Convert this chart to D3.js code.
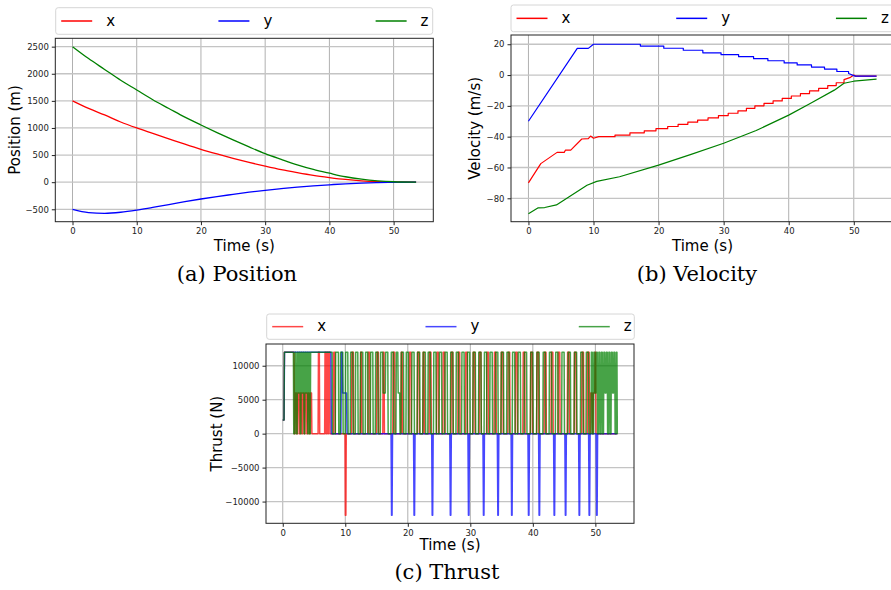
<!DOCTYPE html>
<html>
<head>
<meta charset="utf-8">
<script src="https://cdn.jsdelivr.net/npm/d3@7"></script>
<style>
  body { margin: 0; background: #fff; }
  text { font-family: "DejaVu Sans", sans-serif; }
</style>
</head>
<body>
<div id="fig"></div>
<script>
/*******************************/
/*            Data             */
/*******************************/

// (a) position, sampled every 2.5 s
var timePos = [0, 2.5, 5, 7.5, 10, 12.5, 15, 17.5, 20, 22.5, 25, 27.5, 30, 32.5, 35, 37.5, 40, 42.5, 45, 47.5, 50, 53.5];
var posX = [1500, 1360, 1240, 1110, 1000, 900, 800, 700, 605, 520, 440, 365, 295, 230, 175, 125, 85, 50, 25, 10, 3, 0];
var posY = [-500, -560, -575, -555, -515, -465, -415, -360, -310, -265, -225, -185, -150, -120, -92, -68, -48, -30, -17, -8, -3, 0];
var posZ = [2500, 2280, 2080, 1880, 1700, 1520, 1360, 1200, 1055, 915, 780, 650, 525, 420, 320, 235, 165, 100, 55, 25, 8, 0];

// (b) velocity, [time, value] break points
var velX = [[0, -70], [1.9, -57.5], [4.4, -50.2], [5.5, -50.2], [5.7, -48.7], [6.5, -48.7], [8.2, -41.5], [9.2, -41.3],
  [9.55, -39.6], [10.0, -41.0], [10.8, -40.0], [13.3, -40.0], [13.3, -39.0], [15.6, -39.0], [15.6, -37.5], [17.8, -37.5],
  [17.8, -36.2], [19.6, -36.2], [19.6, -34.8], [21.4, -34.8], [21.4, -33.4], [23.0, -33.4], [23.0, -32.0], [24.5, -32.0],
  [24.5, -30.6], [26.0, -30.6], [26.0, -29.2], [27.6, -29.2], [27.6, -27.8], [29.2, -27.8], [29.2, -26.3], [30.7, -26.3],
  [30.7, -24.8], [32.2, -24.8], [32.2, -23.2], [33.5, -23.2], [33.5, -21.6], [34.8, -21.6], [34.8, -20.0], [36.2, -20.0],
  [36.2, -18.4], [37.6, -18.4], [37.6, -16.8], [39.0, -16.8], [39.0, -15.2], [40.4, -15.2], [40.4, -13.6], [41.8, -13.6],
  [41.8, -12.0], [43.2, -12.0], [43.2, -10.3], [44.6, -10.3], [44.6, -8.6], [46.0, -8.6], [46.0, -6.8], [47.3, -6.8],
  [47.3, -5.0], [48.5, -5.0], [48.5, -3.0], [49.5, -1.5], [50.0, 0], [50.3, -0.7], [53.5, -0.7]];
var velY = [[0, -30], [7.5, 17.3], [9.2, 17.3], [10.0, 20], [17.2, 20], [17.2, 18.8], [20.8, 18.8], [20.8, 17.4],
  [23.8, 17.4], [23.8, 16.1], [26.8, 16.1], [26.8, 14.4], [29.6, 14.4], [29.6, 13.2], [32.3, 13.2], [32.3, 11.9],
  [34.6, 11.9], [34.6, 10.6], [36.8, 10.6], [36.8, 9.3], [39.3, 9.3], [39.3, 7.9], [41.3, 7.9], [41.3, 6.6],
  [43.5, 6.6], [43.5, 5.2], [45.5, 5.2], [45.5, 3.9], [47.4, 3.9], [47.4, 2.3], [49.2, 2.3], [49.2, 1.0],
  [50.2, -0.7], [53.5, -0.7]];
var velZ = [[0, -90], [1.5, -86.2], [2.5, -86.0], [4.3, -84.3], [9.0, -71.5], [10.5, -69.0], [14.0, -66.0],
  [20.0, -58.5], [25.0, -51.5], [30.0, -44.3], [35.0, -36.0], [40.0, -26.0], [43.3, -18.5], [47.0, -9.8],
  [48.5, -5.3], [50.0, -4.0], [53.5, -2.7]];

// (c) thrust, [time, new level] switching points
var thrustEnd = 53.5;
var thrustX = [[0, 2000], [0.2, 12000], [1.8, 0], [1.95, 6000], [2.2, 0], [2.35, 6000], [2.6, 0], [2.75, 6000], [3.0, 0],
  [3.15, 6000], [3.4, 0], [3.55, 6000], [3.8, 0], [3.95, 6000], [4.2, 0], [4.35, 6000], [4.6, 0],
  [5.65, 12000], [5.85, 0], [6.7, 12000], [6.85, 0], [7.0, 12000], [7.15, 0], [7.3, 12000], [7.5, 0], [8.1, 12000], [8.35, 0],
  [9.95, -12000], [10.1, 0],
  [11.0, 12000], [11.3, 0], [12.4, 12000], [12.6, 0], [13.6, 12000], [13.9, 0], [15.0, 12000], [15.3, 0], [16.0, 12000], [16.2, 0],
  [17.6, 12000], [17.9, 0], [18.9, 12000], [19.1, 0], [20.2, 12000], [20.5, 0], [21.5, 12000], [21.8, 0], [22.4, 12000], [22.6, 0],
  [23.4, 12000], [23.7, 0], [24.6, 12000], [24.9, 0], [25.6, 12000], [25.9, 0], [26.9, 12000], [27.2, 0], [28.0, 12000], [28.3, 0],
  [29.2, 12000], [29.5, 0], [30.4, 12000], [30.7, 0], [31.4, 12000], [31.7, 0], [32.6, 12000], [32.9, 0], [33.8, 12000], [34.1, 0],
  [34.9, 12000], [35.2, 0], [36.0, 12000], [36.3, 0], [37.2, 12000], [37.5, 0], [38.4, 12000], [38.7, 0], [39.6, 12000], [39.9, 0],
  [40.6, 12000], [40.9, 0], [41.8, 12000], [42.1, 0], [42.9, 12000], [43.2, 0], [44.0, 12000], [44.3, 0], [45.5, 12000], [45.8, 0],
  [46.6, 12000], [46.9, 0], [47.8, 12000], [48.1, 0], [48.7, 12000], [49.0, 0], [49.2, 6000], [49.5, 0], [49.6, 6000],
  [49.9, 12000], [50.05, 0]];
var thrustY = [[0, 2000], [0.2, 12000], [7.7, 0], [9.3, 12000], [9.5, 6000], [10.2, 0]];
var spikesY = [17.4, 21.0, 23.9, 26.8, 29.7, 32.1, 34.4, 36.6, 39.3, 41.0, 43.4, 45.2, 47.4, 49.0, 50.2];
var thrustZ = [[0, 2000], [0.2, 12000], [1.7, 0], [1.9, 12000], [2.1, 0], [2.3, 12000], [2.45, 6000], [2.6, 12000], [2.75, 0],
  [2.9, 12000], [3.05, 6000], [3.2, 12000], [3.35, 0], [3.5, 12000], [3.65, 6000], [3.8, 12000], [3.95, 0], [4.1, 12000],
  [4.25, 0], [4.4, 12000],
  [7.9, 0], [8.4, 12000], [8.9, 0], [9.2, 12000], [9.6, 0], [10.0, 12000], [10.4, 0], [10.8, 12000], [11.2, 0], [11.6, 12000],
  [12.0, 0], [12.4, 12000], [12.8, 0], [13.2, 12000], [13.6, 0], [14.0, 12000], [14.4, 0], [14.8, 12000], [15.2, 0],
  [15.6, 12000], [16.0, 6000], [16.4, 12000], [16.8, 0], [17.3, 12000], [17.7, 0], [18.1, 12000], [18.4, 6000], [18.7, 0],
  [18.9, 12000], [19.3, 0], [19.7, 12000], [20.1, 0], [20.6, 12000], [21.0, 0], [21.5, 12000], [21.9, 0], [22.4, 12000],
  [22.8, 0], [23.2, 12000], [23.6, 0], [24.1, 12000], [24.5, 0], [25.0, 12000], [25.4, 0], [25.9, 12000], [26.3, 0],
  [26.8, 12000], [27.2, 0], [27.7, 12000], [28.1, 0], [28.6, 12000], [29.0, 0], [29.5, 12000], [29.9, 0], [30.4, 12000],
  [30.8, 0], [31.3, 12000], [31.7, 0], [32.2, 12000], [32.6, 0], [33.1, 12000], [33.5, 0], [34.0, 12000], [34.4, 0],
  [34.9, 12000], [35.3, 0], [35.8, 12000], [36.2, 0], [36.7, 12000], [37.1, 0], [37.6, 12000], [38.0, 0], [38.6, 12000],
  [39.0, 0], [39.6, 12000], [40.0, 0], [40.6, 12000], [41.0, 0], [41.6, 12000], [42.0, 0], [42.6, 12000], [43.0, 0],
  [43.6, 12000], [44.0, 0], [44.6, 12000], [45.0, 0], [45.6, 12000], [46.0, 0], [46.6, 12000], [47.0, 0], [47.6, 12000],
  [48.0, 0], [48.5, 12000], [48.9, 0], [49.3, 12000], [49.5, 0], [49.7, 12000], [49.9, 6000], [50.1, 12000], [50.3, 0],
  [50.5, 12000], [50.7, 0], [50.9, 12000], [51.1, 0], [51.3, 12000], [51.5, 6000], [51.7, 12000], [51.9, 0], [52.1, 12000],
  [52.3, 0], [52.5, 12000], [52.7, 6000], [52.9, 12000], [53.1, 0], [53.3, 12000], [53.45, 0]];

var xTicks = [0, 10, 20, 30, 40, 50];
var posTicks = [-500, 0, 500, 1000, 1500, 2000, 2500];
var velTicks = [-80, -60, -40, -20, 0, 20];
var thrustTicks = [-10000, -5000, 0, 5000, 10000];
var seriesNames = ["x", "y", "z"];
var seriesColors = ["#ff0000", "#0000ff", "#008000"];

/*******************************/
/*        Helpers              */
/*******************************/

var svg = d3.select("#fig").append("svg")
  .attr("width", 891)
  .attr("height", 590);

svg.append("rect").attr("width", 891).attr("height", 590).attr("fill", "#fff");

function fmt(d) {
  return d < 0 ? "\u2212" + Math.abs(d) : String(d);
}

// turn switching points into a polyline with short ramps
function stepPoints(changes, endT, ramp) {
  var pts = [], prev = null;
  changes.forEach(function(c, i) {
    if (i === 0) {
      pts.push([c[0], c[1]]);
    } else {
      pts.push([c[0], prev]);
      pts.push([c[0] + ramp, c[1]]);
    }
    prev = c[1];
  });
  pts.push([endT, prev]);
  return pts;
}

var clipId = 0;

function drawPanel(cfg) {
  var g = svg.append("g");
  var x = d3.scaleLinear().domain([-2.68, 56.18]).range([cfg.frame[0], cfg.frame[1]]);
  var y = d3.scaleLinear().domain(cfg.yDomain).range([cfg.frame[3], cfg.frame[2]]);
  var fw = cfg.frame[1] - cfg.frame[0], fh = cfg.frame[3] - cfg.frame[2];

  // grid
  g.append("g").selectAll("line").data(xTicks).enter().append("line")
    .attr("x1", function(d) { return x(d); }).attr("x2", function(d) { return x(d); })
    .attr("y1", cfg.frame[2]).attr("y2", cfg.frame[3])
    .attr("stroke", "#b0b0b0").attr("stroke-width", 1);
  g.append("g").selectAll("line").data(cfg.yTicks).enter().append("line")
    .attr("y1", function(d) { return y(d); }).attr("y2", function(d) { return y(d); })
    .attr("x1", cfg.frame[0]).attr("x2", cfg.frame[1])
    .attr("stroke", "#c4c4c4").attr("stroke-width", 1.3);

  // lines
  var id = "clip" + (clipId++);
  svg.append("clipPath").attr("id", id).append("rect")
    .attr("x", cfg.frame[0]).attr("y", cfg.frame[2]).attr("width", fw).attr("height", fh);
  var lg = g.append("g").attr("clip-path", "url(#" + id + ")");
  cfg.series.forEach(function(s, i) {
    var line = d3.line()
      .x(function(d) { return x(d[0]); })
      .y(function(d) { return y(d[1]); })
      .curve(cfg.smooth ? d3.curveMonotoneX : d3.curveLinear);
    lg.append("path")
      .attr("d", line(s))
      .attr("fill", "none")
      .attr("stroke", seriesColors[i])
      .attr("stroke-opacity", cfg.alpha)
      .attr("stroke-width", cfg.lw)
      .attr("stroke-linejoin", "round");
  });

  // axes
  var ax = g.append("g").attr("transform", "translate(0," + cfg.frame[3] + ")")
    .call(d3.axisBottom(x).tickValues(xTicks).tickFormat(fmt).tickSize(3.5).tickPadding(3));
  var ay = g.append("g").attr("transform", "translate(" + cfg.frame[0] + ",0)")
    .call(d3.axisLeft(y).tickValues(cfg.yTicks).tickFormat(fmt).tickSize(3.5).tickPadding(3));
  [ax, ay].forEach(function(a) {
    a.select(".domain").remove();
    a.selectAll("line").attr("stroke", "#222");
    a.selectAll("text").attr("font-size", "8.5px").attr("fill", "#222")
      .style("font-family", "'DejaVu Sans', sans-serif");
  });

  g.append("rect")
    .attr("x", cfg.frame[0]).attr("y", cfg.frame[2]).attr("width", fw).attr("height", fh)
    .attr("fill", "none").attr("stroke", "#222").attr("stroke-width", 1);

  // labels
  g.append("text")
    .attr("transform", "translate(" + cfg.ylabelX + "," + ((cfg.frame[2] + cfg.frame[3]) / 2) + ") rotate(-90)")
    .attr("text-anchor", "middle").attr("dy", "0.35em").attr("font-size", "15px")
    .text(cfg.ylabel);
  g.append("text")
    .attr("x", (cfg.frame[0] + cfg.frame[1]) / 2).attr("y", cfg.xlabelY)
    .attr("text-anchor", "middle").attr("dy", "0.35em").attr("font-size", "15px")
    .text("Time (s)");
  g.append("text")
    .attr("x", cfg.captionX).attr("y", cfg.captionY)
    .attr("text-anchor", "middle").attr("font-size", "21px")
    .style("font-family", "'DejaVu Serif', serif")
    .text(cfg.caption);

  // legend, three columns spread over the box
  var L = cfg.legend, lw = L[1] - L[0], ly = (L[2] + L[3]) / 2;
  g.append("rect")
    .attr("x", L[0]).attr("y", L[2]).attr("width", lw).attr("height", L[3] - L[2])
    .attr("rx", 2.5).attr("fill", "#fff").attr("stroke", "#d6d6d6").attr("stroke-width", 1);
  seriesNames.forEach(function(n, i) {
    var lx = L[0] + 5.5 + i * lw * 0.417;
    g.append("line")
      .attr("x1", lx).attr("x2", lx + 31).attr("y1", ly).attr("y2", ly)
      .attr("stroke", seriesColors[i]).attr("stroke-opacity", cfg.alpha).attr("stroke-width", 1.5);
    g.append("text")
      .attr("x", lx + 45).attr("y", ly).attr("dy", "0.32em").attr("font-size", "15px")
      .text(n);
  });
}

/*******************************/
/*         Draw panels         */
/*******************************/

function zipTime(vals) {
  return vals.map(function(v, i) { return [timePos[i], v]; });
}

drawPanel({
  frame: [55.3, 433.3, 38.3, 221.7],
  yDomain: [-729, 2654], yTicks: posTicks,
  series: [zipTime(posX), zipTime(posY), zipTime(posZ)],
  smooth: true,
  alpha: 1, lw: 1.3,
  ylabel: "Position (m)", ylabelX: 15, xlabelY: 246,
  caption: "(a) Position", captionX: 237, captionY: 281,
  legend: [55.7, 432.7, 7.7, 34.3]
});

drawPanel({
  frame: [511, 894, 35, 221.7],
  yDomain: [-95.2, 26.0], yTicks: velTicks,
  series: [velX, velY, velZ],
  smooth: false,
  alpha: 1, lw: 1.2,
  ylabel: "Velocity (m/s)", ylabelX: 475, xlabelY: 246,
  caption: "(b) Velocity", captionX: 697, captionY: 281,
  legend: [511, 894, 5, 31.7]
});

var yChanges = thrustY.slice();
spikesY.forEach(function(t) {
  yChanges.push([t - 0.08, -12000]);
  yChanges.push([t + 0.08, 0]);
});

drawPanel({
  frame: [266, 634, 344, 523.3],
  yDomain: [-13200, 13200], yTicks: thrustTicks,
  series: [stepPoints(thrustX, thrustEnd, 0.06), stepPoints(yChanges, thrustEnd, 0.08), stepPoints(thrustZ, thrustEnd, 0.06)],
  smooth: false,
  alpha: 0.72, lw: 1.5,
  ylabel: "Thrust (N)", ylabelX: 217, xlabelY: 545,
  caption: "(c) Thrust", captionX: 447, captionY: 579,
  legend: [266.7, 634.3, 314, 339.3]
});
</script>
</body>
</html>
